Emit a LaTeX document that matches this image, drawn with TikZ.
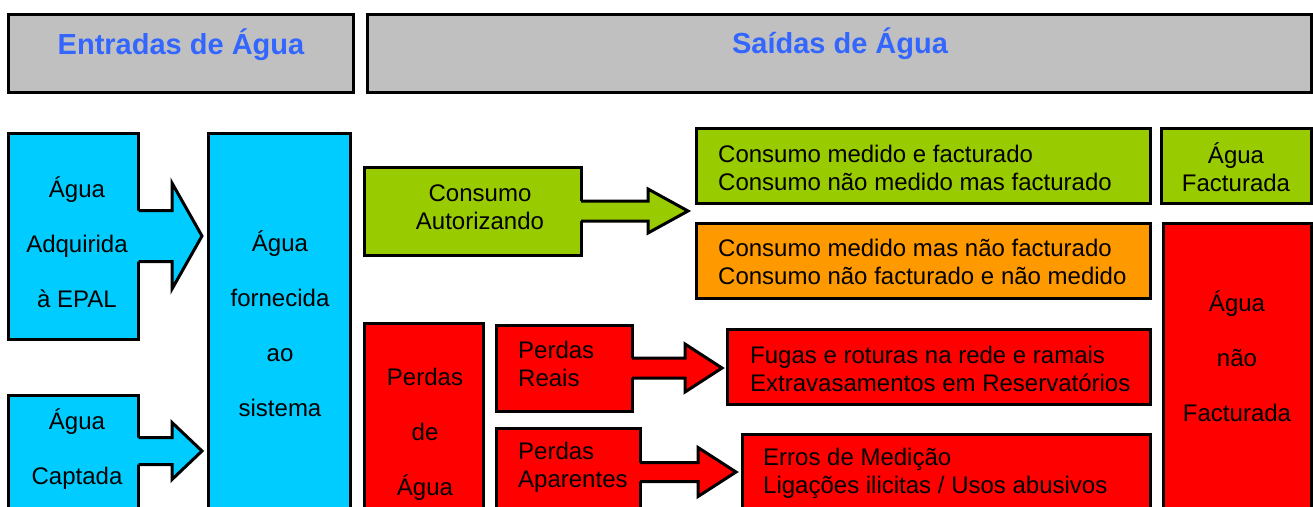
\documentclass[tikz,border=0pt]{standalone}
\usepackage{fontspec}
\setmainfont{Liberation Sans}
\usetikzlibrary{calc}
\definecolor{cblue}{HTML}{00CCFF}
\definecolor{cgreen}{HTML}{99CC00}
\definecolor{corange}{HTML}{FF9900}
\definecolor{cred}{HTML}{FF0000}
\definecolor{cgrey}{HTML}{C0C0C0}
\definecolor{chead}{HTML}{3366FF}
\newcommand\barrow[6]{%
  \fill[#1] ($(#2)+(-3,-#4)$) -- ($(#3)+(-#6,-#4)$) -- ($(#3)+(-#6,-#5)$) -- (#3)
    -- ($(#3)+(-#6,#5)$) -- ($(#3)+(-#6,#4)$) -- ($(#2)+(-3,#4)$) -- cycle;
  \draw[line width=3pt, line join=miter] ($(#2)+(0,-#4)$) -- ($(#3)+(-#6,-#4)$) -- ($(#3)+(-#6,-#5)$) -- (#3)
    -- ($(#3)+(-#6,#5)$) -- ($(#3)+(-#6,#4)$) -- ($(#2)+(0,#4)$);
}
\tikzset{
  box/.style={draw=black, line width=3pt, rectangle, inner sep=0pt, outer sep=0pt, anchor=north west},
  txt/.style={inner sep=0pt, font=\fontsize{24}{28}\selectfont, align=left, anchor=west},
  ctxt/.style={inner sep=0pt, font=\fontsize{24}{55}\selectfont, align=center},
  head/.style={inner sep=0pt, font=\fontsize{29}{32}\selectfont\bfseries, text=chead},
}
\begin{document}
\begin{tikzpicture}[x=1pt,y=-1pt]
\useasboundingbox (0,0) rectangle (1313,506);
\clip (0,0) rectangle (1313,506);
% headers
\node[box, fill=cgrey, minimum width=345, minimum height=78] (hl) at (8.5,14.5) {};
\node[box, fill=cgrey, minimum width=944, minimum height=78] (hr) at (367.5,14.5) {};
\node[head] (thl) at (181,45) {Entradas de Água};
\node[head] (thr) at (840,44) {Saídas de Água};
% inputs
\node[box, fill=cblue, minimum width=130, minimum height=206] (adq) at (8.5,133) {};
\node[box, fill=cblue, minimum width=130, minimum height=150] (capt) at (8.5,395) {};
\node[box, fill=cblue, minimum width=142, minimum height=400] (forn) at (208,133) {};
\node[ctxt] (tadq) at (77,242) {Água\\Adquirida\\à EPAL};
\node[ctxt] (tcapt) at (77,449.5) {Água\\Captada};
\node[ctxt] (tforn) at (280,324) {Água\\fornecida\\ao\\sistema};
\coordinate (a1s) at (adq.east |- 0,236);
\coordinate (a1t) at ($(forn.west |- 0,236)+(-6,0)$);
\barrow{cblue}{a1s}{a1t}{25.5}{53}{30}
\coordinate (a2s) at (capt.east |- 0,451);
\coordinate (a2t) at ($(forn.west |- 0,451)+(-6,0)$);
\barrow{cblue}{a2s}{a2t}{13.5}{28.5}{30}
% outputs
\node[box, fill=cgreen, minimum width=217, minimum height=88] (cons) at (364,167) {};
\node[txt, align=center, anchor=center] (tcons) at (480,207) {Consumo\\Autorizando};
\node[box, fill=cgreen, minimum width=454, minimum height=75] (g1) at (696,128) {};
\node[box, fill=cgreen, minimum width=150, minimum height=75] (gf) at (1161,128) {};
\node[box, fill=corange, minimum width=454, minimum height=75] (or) at (696,223) {};
\node[box, fill=cred, minimum width=148, minimum height=320] (rnf) at (1163,223) {};
\node[txt] (tg1) at (718,167.5) {Consumo medido e facturado\\Consumo não medido mas facturado};
\node[txt, align=center, anchor=center] (tgf) at (1236,167.5) {Água\\Facturada};
\node[txt] (tor) at (718,261.5) {Consumo medido mas não facturado\\Consumo não facturado e não medido};
\node[ctxt] (trnf) at (1237,356) {Água\\não\\Facturada};
\coordinate (a3s) at (cons.east |- 0,211);
\coordinate (a3t) at ($(g1.west |- 0,211)+(-8,0)$);
\barrow{cgreen}{a3s}{a3t}{10}{22}{40}
% losses
\node[box, fill=cred, minimum width=119, minimum height=220] (perd) at (364,323) {};
\node[ctxt] (tperd) at (425,434) {Perdas\\de\\Água};
\node[box, fill=cred, minimum width=136, minimum height=86] (reais) at (496,325) {};
\node[box, fill=cred, minimum width=144, minimum height=110] (apar) at (496,428) {};
\node[txt] (treais) at (518,364) {Perdas\\Reais};
\node[txt] (tapar) at (518,467.5) {Perdas\\Aparentes};
\node[box, fill=cred, minimum width=423, minimum height=75] (fug) at (727,329) {};
\node[box, fill=cred, minimum width=408, minimum height=110] (err) at (742,434) {};
\node[txt] (tfug) at (750,368.5) {Fugas e roturas na rede e ramais\\Extravasamentos em Reservatórios};
\node[txt] (terr) at (763,473) {Erros de Medição\\Ligações ilicitas / Usos abusivos};
\coordinate (a4s) at (reais.east |- 0,368);
\coordinate (a4t) at ($(fug.west |- 0,368)+(-5,0)$);
\barrow{cred}{a4s}{a4t}{10}{24}{37}
\coordinate (a5s) at (apar.east |- 0,472);
\coordinate (a5t) at ($(err.west |- 0,472)+(-6,0)$);
\barrow{cred}{a5s}{a5t}{9.5}{24.5}{38}
\end{tikzpicture}
\end{document}
